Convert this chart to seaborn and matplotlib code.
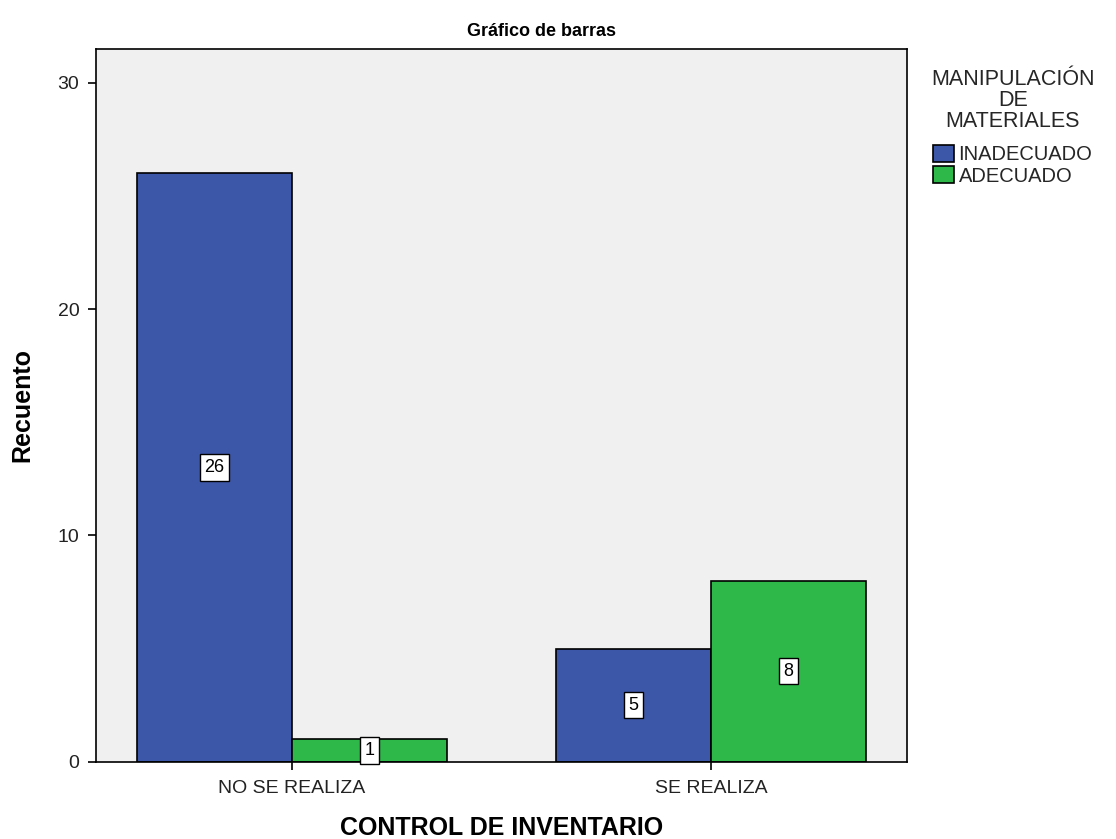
import pandas as pd
import matplotlib.pyplot as plt
import seaborn as sns

# Data
categories = ['NO SE REALIZA', 'SE REALIZA']
groups = ['INADECUADO', 'ADECUADO']
inadecuado = [26, 5]
adecuado = [1, 8]

df = pd.DataFrame({
    'control': categories * 2,
    'manipulacion': [groups[0]] * 2 + [groups[1]] * 2,
    'recuento': inadecuado + adecuado,
})

sns.set_theme(style='white')
plt.rcParams['font.family'] = ['Liberation Sans', 'DejaVu Sans']

fig = plt.figure(figsize=(11.16, 8.39), dpi=100)
ax = fig.add_axes([0.086, 0.092, 0.727, 0.85])
ax.set_facecolor('#f0f0f0')

palette = {'INADECUADO': '#3d57a8', 'ADECUADO': '#2fb84a'}
sns.barplot(data=df, x='control', y='recuento', hue='manipulacion',
            order=categories, hue_order=groups, palette=palette,
            width=0.74, gap=0, edgecolor='black', linewidth=1.2,
            saturation=1, ax=ax, legend=False)

# value labels in white boxes
for cont in ax.containers:
    ax.bar_label(cont, label_type='center', fontsize=13, color='black',
                 bbox=dict(boxstyle='square,pad=0.25', facecolor='white',
                           edgecolor='black', linewidth=1))

ax.set_xlim(-0.468, 1.468)
ax.set_ylim(0, 31.5)
ax.set_yticks([0, 10, 20, 30])
ax.tick_params(axis='both', direction='out', length=6, width=1.2, pad=6,
               color='black', labelsize=14, labelcolor='#222222',
               bottom=True, left=True)
ax.tick_params(axis='x', pad=7)
for sp in ax.spines.values():
    sp.set_color('black')
    sp.set_linewidth(1.2)

ax.set_xlabel('CONTROL DE INVENTARIO', fontsize=18, fontweight='bold',
              labelpad=14, color='black')
ax.set_ylabel('Recuento', fontsize=18, fontweight='bold', labelpad=17,
              color='black')
fig.text(0.485, 0.963, 'Gráfico de barras', ha='center', va='center',
         fontsize=13, fontweight='bold', color='black')

handles = [plt.Rectangle((0, 0), 1, 1, facecolor=palette[g], edgecolor='black',
                         linewidth=1.2) for g in groups]
leg = ax.legend(handles, groups, title='MANIPULACIÓN\nDE\nMATERIALES',
                loc='upper left', bbox_to_anchor=(1.017, 0.985), frameon=False,
                fontsize=14.5, title_fontsize=15.5, handlelength=1.0,
                handleheight=0.9, handletextpad=0.25, labelspacing=0.1,
                borderpad=0, alignment='center')
leg.get_title().set_multialignment('center')
leg.get_title().set_linespacing(1.0)
leg._legend_box.sep = 9

fig.savefig('out.png', dpi=100)
